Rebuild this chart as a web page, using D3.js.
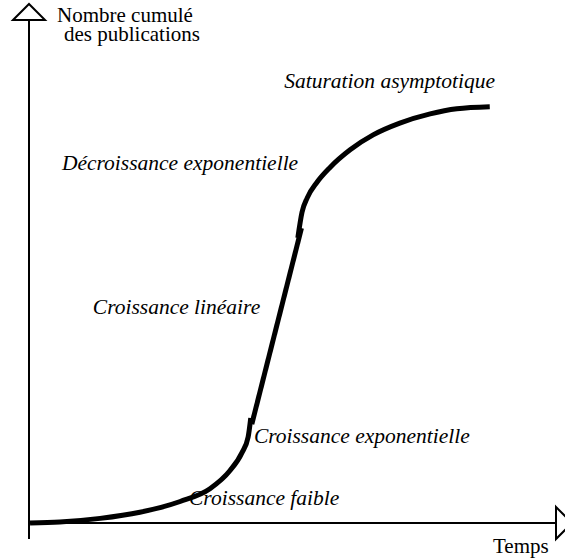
<!DOCTYPE html>
<html>
<head>
<meta charset="utf-8">
<script src="https://cdn.jsdelivr.net/npm/d3@7"></script>
<style>
  body { margin: 0; background: #fff; }
  svg { display: block; }
</style>
</head>
<body>
<svg id="chart"></svg>
<script>
// Curve, in units of 0..100 on both axes
// three separate pieces (small offsets where they meet)
const lowX  = [0.2, 5.9, 13.6, 21.2, 28.9, 34.6, 38.4, 40.7, 41.9, 42.4];
const lowY  = [0, 0.2, 0.9, 2.1, 4.2, 6.7, 10.2, 13.7, 16.8, 20.5];
const linX  = [42.6, 52.1];
const linY  = [19.3, 57.6];
const highX = [51.4, 52.2, 53.2, 55.1, 57.6, 61.4, 65.8, 70.9, 76.7, 81.8, 88.1];
const highY = [55.7, 60.7, 63.5, 66.6, 69.5, 72.9, 75.8, 78.1, 79.9, 80.9, 81.3];

// phase labels and where they sit (same units)
const phaseLabels = ["Saturation asymptotique", "Décroissance exponentielle",
                     "Croissance linéaire", "Croissance exponentielle", "Croissance faible"];
const phaseX = [48.8, 6.3, 12.2, 43.0, 30.6];
const phaseY = [85.0, 68.9, 40.8, 15.6, 3.5];

const yTitle = ["Nombre cumulé", "des publications"];
const xTitle = "Temps";

const serif = "'Liberation Serif', 'DejaVu Serif', Tinos, 'Times New Roman', Times, serif";

const svgWidth = 565, svgHeight = 558;
const svg = d3.select("#chart")
    .attr("width", svgWidth)
    .attr("height", svgHeight)
    .style("font-family", serif);

const x = d3.scaleLinear().domain([0, 100]).range([29, 552]);
const y = d3.scaleLinear().domain([0, 100]).range([523, 11]);

// axes
svg.append("line")
    .attr("x1", x(0)).attr("x2", x(0))
    .attr("y1", 20).attr("y2", 539)
    .attr("stroke", "#000").attr("stroke-width", 2);
svg.append("line")
    .attr("x1", x(0)).attr("x2", 556)
    .attr("y1", y(0)).attr("y2", y(0))
    .attr("stroke", "#000").attr("stroke-width", 2);

// open arrow heads
svg.append("path")
    .attr("d", `M${x(0) - 16},20 L${x(0)},4 L${x(0) + 16},20 Z`)
    .attr("fill", "#fff").attr("stroke", "#000").attr("stroke-width", 2);
svg.append("path")
    .attr("d", `M556,${y(0) - 16} L572,${y(0)} L556,${y(0) + 16} Z`)
    .attr("fill", "#fff").attr("stroke", "#000").attr("stroke-width", 2);

// the curve
const line = d3.line()
    .x(d => x(d[0]))
    .y(d => y(d[1]))
    .curve(d3.curveMonotoneX);

[[lowX, lowY], [linX, linY], [highX, highY]].forEach(([xs, ys]) => {
    svg.append("path")
        .datum(xs.map((v, i) => [v, ys[i]]))
        .attr("d", line)
        .attr("fill", "none")
        .attr("stroke", "#000")
        .attr("stroke-width", 5);
});

// labels
svg.selectAll("text.phase")
    .data(phaseLabels)
    .join("text")
    .attr("class", "phase")
    .attr("x", (d, i) => x(phaseX[i]))
    .attr("y", (d, i) => y(phaseY[i]))
    .style("font-family", serif)
    .style("font-size", "21.5px")
    .style("font-style", "italic")
    .text(d => d);

svg.append("text")
    .attr("x", 57).attr("y", 22)
    .style("font-family", serif)
    .style("font-size", "21px")
    .text(yTitle[0]);
svg.append("text")
    .attr("x", 64).attr("y", 41)
    .style("font-family", serif)
    .style("font-size", "21px")
    .text(yTitle[1]);

svg.append("text")
    .attr("x", 493).attr("y", 553)
    .style("font-family", serif)
    .style("font-size", "21px")
    .text(xTitle);
</script>
</body>
</html>
